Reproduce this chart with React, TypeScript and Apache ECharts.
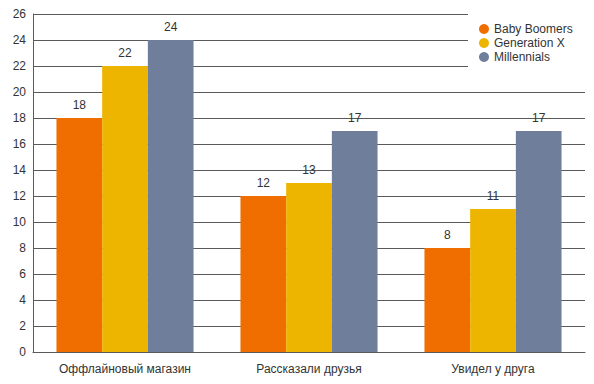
import React, { useEffect, useRef } from "react";
import * as echarts from "echarts";

const categories = ["Оффлайновый магазин", "Рассказали друзья", "Увидел у друга"];
const seriesNames = ["Baby Boomers", "Generation X", "Millennials"];
const babyBoomers = [18, 12, 8];
const generationX = [22, 13, 11];
const millennials = [24, 17, 17];
const colors = ["#F06E00", "#EDB500", "#6F7F9B"];

export default function App() {
  const ref = useRef<HTMLDivElement>(null);
  useEffect(() => {
    if (!ref.current) return;
    const chart = echarts.init(ref.current, undefined, { renderer: "svg" });
    const values = [babyBoomers, generationX, millennials];
    const font = "'Liberation Sans', Arial, sans-serif";
    chart.setOption({
      animation: false,
      textStyle: { fontFamily: font },
      grid: { left: 33, right: 9, top: 14, bottom: 32 },
      legend: {
        orient: "vertical",
        left: 468,
        top: 8,
        padding: [15, 20, 8, 11],
        backgroundColor: "#ffffff",
        icon: "circle",
        itemWidth: 10,
        itemHeight: 10,
        itemGap: 2,
        data: seriesNames,
        textStyle: { fontSize: 12, color: "#333", fontFamily: font },
      },
      xAxis: {
        type: "category",
        data: categories,
        axisLine: { show: true, lineStyle: { color: "#5a5a5a", width: 1 } },
        axisTick: { show: false },
        axisLabel: { fontSize: 12, color: "#333", margin: 11, fontFamily: font },
      },
      yAxis: {
        type: "value",
        min: 0,
        max: 26,
        interval: 2,
        axisLine: { show: true, lineStyle: { color: "#5a5a5a", width: 1 } },
        axisTick: { show: false },
        splitLine: { show: true, lineStyle: { color: "#5a5a5a", width: 1 } },
        axisLabel: { fontSize: 12, color: "#333", margin: 7, fontFamily: font },
      },
      series: seriesNames.map((name, i) => ({
        name,
        type: "bar",
        data: values[i],
        barGap: "0%",
        barCategoryGap: "25.5%",
        itemStyle: { color: colors[i] },
        label: {
          show: true,
          position: "top",
          distance: 7,
          fontSize: 12,
          color: "#333",
          fontFamily: font,
        },
      })),
    });
    return () => chart.dispose();
  }, []);
  return (
    <div
      ref={ref}
      style={{ position: "absolute", left: 0, top: 0, width: 594, height: 384 }}
    />
  );
}
